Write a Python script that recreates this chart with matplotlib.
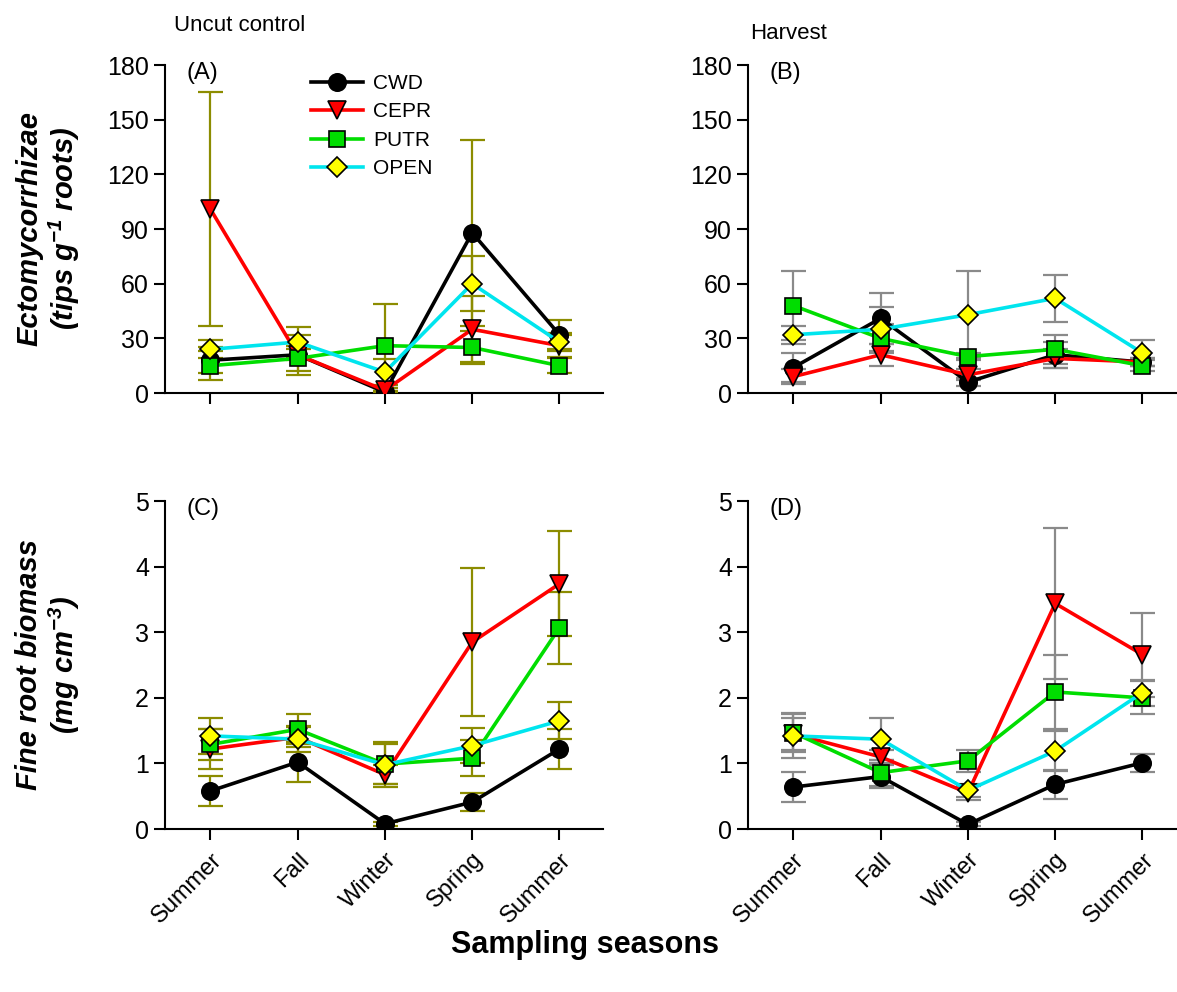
import matplotlib
matplotlib.use("Agg")
import matplotlib.pyplot as plt

plt.rcParams['font.family'] = ['Liberation Sans', 'DejaVu Sans']
plt.rcParams['mathtext.fontset'] = 'custom'
plt.rcParams['mathtext.it'] = 'Liberation Sans:italic:bold'
plt.rcParams['mathtext.rm'] = 'Liberation Sans:italic:bold'

# x categories
seasons = ["Summer", "Fall", "Winter", "Spring", "Summer"]
series = ["CWD", "CEPR", "PUTR", "OPEN"]

# (A) Ectomycorrhizae, uncut control  -- rows: CWD, CEPR, PUTR, OPEN
ecto_uncut = [[18, 21, 0.5, 88, 32],
              [101, 21, 1.5, 35, 26],
              [15, 19, 26, 25, 15],
              [24, 28, 11.5, 60, 28]]
ecto_uncut_se = [[7, 11, 0.5, 51, 8],
                 [64, 3, 1, 18, 6],
                 [8, 7, 23, 9, 4],
                 [5, 8, 7, 15, 5]]

# (B) Ectomycorrhizae, harvest
ecto_harv = [[14, 41, 6, 21, 17],
             [9, 21, 10, 19, 17],
             [48, 30, 20, 24, 15],
             [32, 35, 43, 52, 22]]
ecto_harv_se = [[8, 14, 2, 7, 2],
                [4, 6, 3, 5, 2],
                [19, 8, 2, 8, 3],
                [5, 12, 24, 13, 7]]

# (C) Fine root biomass, uncut control
root_uncut = [[0.58, 1.02, 0.08, 0.41, 1.22],
              [1.22, 1.40, 0.83, 2.85, 3.74],
              [1.29, 1.52, 0.99, 1.08, 3.07],
              [1.42, 1.37, 0.98, 1.27, 1.65]]
root_uncut_se = [[0.23, 0.31, 0.03, 0.14, 0.31],
                 [0.30, 0.15, 0.15, 1.13, 0.80],
                 [0.23, 0.23, 0.30, 0.27, 0.55],
                 [0.27, 0.20, 0.34, 0.27, 0.28]]

# (D) Fine root biomass, harvest
root_harv = [[0.64, 0.80, 0.07, 0.68, 1.01],
             [1.45, 1.10, 0.55, 3.44, 2.66],
             [1.47, 0.86, 1.04, 2.09, 2.00],
             [1.42, 1.37, 0.59, 1.19, 2.08]]
root_harv_se = [[0.23, 0.18, 0.03, 0.22, 0.14],
                [0.25, 0.10, 0.10, 1.15, 0.64],
                [0.30, 0.20, 0.17, 0.56, 0.25],
                [0.34, 0.32, 0.10, 0.30, 0.20]]

line_colors = ["black", "#ff0000", "#00dd00", "#00e5ee"]
face_colors = ["black", "#ff0000", "#00dd00", "#ffff00"]
markers = ["o", "v", "s", "D"]
msizes = [12.5, 12.5, 11.5, 10.5]


def draw_panel(ax, means, ses, ymax, step, err_color, tag):
    x = list(range(len(seasons)))
    for i in range(len(series)):
        ax.errorbar(x, means[i], yerr=ses[i], fmt="none", ecolor=err_color,
                    elinewidth=1.6, capsize=9, capthick=1.6, zorder=2 + i)
        ax.plot(x, means[i], color=line_colors[i], lw=2.6, marker=markers[i],
                ms=msizes[i], mfc=face_colors[i], mec="black", mew=1.2,
                label=series[i], zorder=10 + i)
    ax.set_xlim(-0.52, 4.5)
    ax.set_ylim(0, ymax)
    ax.set_yticks(range(0, ymax + 1, step))
    ax.set_xticks(x)
    ax.set_xticklabels(seasons, rotation=45, ha="right", rotation_mode="anchor",
                       fontsize=17)
    ax.tick_params(axis="y", labelsize=18, direction="out", length=8, width=1.5)
    ax.tick_params(axis="x", direction="out", length=8, width=1.5, pad=6)
    for s in ["top", "right"]:
        ax.spines[s].set_visible(False)
    for s in ["left", "bottom"]:
        ax.spines[s].set_linewidth(1.5)
    ax.text(0.05, 0.975, tag, transform=ax.transAxes, fontsize=17,
            va="center", ha="left")


fig = plt.figure(figsize=(11.77, 9.92), dpi=100)
w, h = 0.3722, 0.3305
axA = fig.add_axes([0.1402, 0.6038, w, h])
axB = fig.add_axes([0.6355, 0.6038, w, h])
axC = fig.add_axes([0.1402, 0.1643, w, h])
axD = fig.add_axes([0.6355, 0.1643, w, h])

olive = "#8c8c00"
gray = "#8a8a8a"
draw_panel(axA, ecto_uncut, ecto_uncut_se, 180, 30, olive, "(A)")
draw_panel(axB, ecto_harv, ecto_harv_se, 180, 30, gray, "(B)")
draw_panel(axC, root_uncut, root_uncut_se, 5, 1, olive, "(C)")
draw_panel(axD, root_harv, root_harv_se, 5, 1, gray, "(D)")

for ax in [axA, axB]:
    ax.set_xticklabels([])

axA.legend(loc="upper left", bbox_to_anchor=(0.29, 1.03), frameon=False,
           fontsize=15, handlelength=2.5, labelspacing=0.45, handletextpad=0.5)

fig.text(0.025, 0.77, "Ectomycorrhizae", rotation=90, fontsize=21,
         fontweight="bold", fontstyle="italic", ha="center", va="center")
fig.text(0.055, 0.77, r"(tips g$^{-1}$ roots)", rotation=90, fontsize=21,
         fontweight="bold", fontstyle="italic", ha="center", va="center")
fig.text(0.025, 0.33, "Fine root biomass", rotation=90, fontsize=21,
         fontweight="bold", fontstyle="italic", ha="center", va="center")
fig.text(0.055, 0.33, r"(mg cm$^{-3}$)", rotation=90, fontsize=21,
         fontweight="bold", fontstyle="italic", ha="center", va="center")

fig.text(0.148, 0.974, "Uncut control", fontsize=16, ha="left", va="center")
fig.text(0.637, 0.966, "Harvest", fontsize=16, ha="left", va="center")
fig.text(0.497, 0.047, "Sampling seasons", fontsize=22, fontweight="bold",
         ha="center", va="center")

fig.savefig("out.png", dpi=100)
